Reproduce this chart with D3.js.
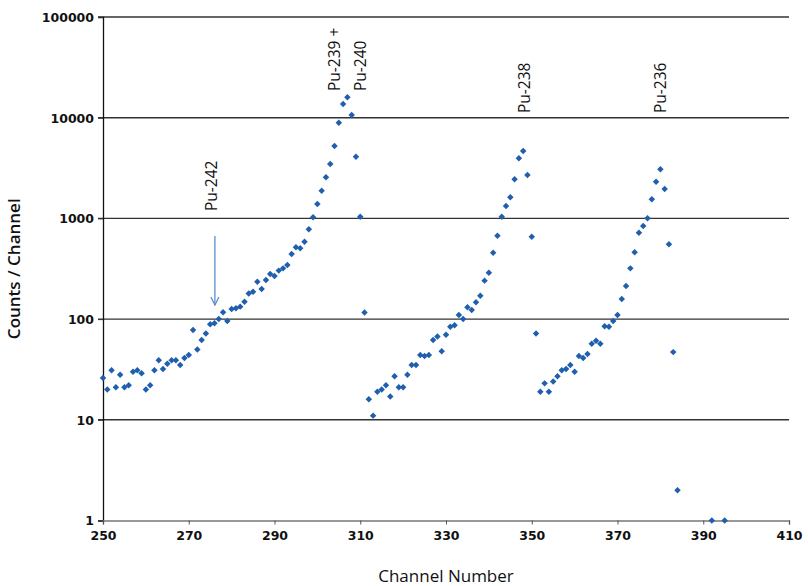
<!DOCTYPE html>
<html>
<head>
<meta charset="utf-8">
<title>Alpha spectrum - Counts / Channel</title>
<script src="https://d3js.org/d3.v7.min.js"></script>
<style>
body { margin: 0; background: #fff; }
.tick-label { font-family: "DejaVu Sans", Verdana, sans-serif; font-weight: bold; font-size: 12.5px; fill: #111; }
.axis-title { font-family: "Liberation Sans Narrow", "Open Sans", sans-serif; font-size: 17px; fill: #111; }
.peak { font-family: "Open Sans", "DejaVu Sans", sans-serif; font-size: 15.5px; fill: #111; }
</style>
</head>
<body>
<script>
// channel numbers and counts
var channels = [
  250,251,252,253,254,255,256,257,258,259,260,261,262,263,264,265,266,267,268,269,
  270,271,272,273,274,275,276,277,278,279,280,281,282,283,284,285,286,287,288,289,
  290,291,292,293,294,295,296,297,298,299,300,301,302,303,304,305,306,307,308,309,
  310,311,312,313,314,315,316,317,318,319,320,321,322,323,324,325,326,327,328,329,
  330,331,332,333,334,335,336,337,338,339,340,341,342,343,344,345,346,347,348,349,
  350,351,352,353,354,355,356,357,358,359,360,361,362,363,364,365,366,367,368,369,
  370,371,372,373,374,375,376,377,378,379,380,381,382,383,384,392,395
];
var counts = [
  26,20,31,21,28,21,22,30,31,29,20,22,31,39,32,36,39,39,35,41,
  44,78,50,62,72,89,91,100,117,96,126,128,133,149,180,187,235,199,245,280,
  268,303,319,344,443,517,505,587,780,1026,1390,1884,2560,3470,5230,8920,13680,15950,10640,4100,
  1040,116,16,11,19,20,22,17,27,21,21,28,35,35,44,43,44,62,67,48,
  70,84,87,110,100,131,123,147,171,241,289,457,673,1040,1328,1620,2445,3950,4670,2700,
  658,72,19,23,19,24,27,31,32,35,30,43,41,45,57,61,57,85,84,96,
  110,158,213,319,461,721,841,1002,1548,2313,3075,1960,553,47,2,1,1
];

var xTicks = [250,270,290,310,330,350,370,390,410];
var yTicks = [1,10,100,1000,10000,100000];

// peak labels: channel, counts at the start of the text
var peakNames = ["Pu-242", "Pu-239 +", "Pu-240", "Pu-238", "Pu-236"];
var peakChan  = [275.4, 303.9, 310.1, 348.2, 379.9];
var peakAt    = [1184, 18400, 18400, 11140, 11140];

// arrow pointing at Pu-242
var arrowChan = 276.1;
var arrowFrom = 670, arrowTo = 138;

var width = 808, height = 586;
var plotLeft = 103, plotRight = 789, plotTop = 17, plotBottom = 520.5;

var svg = d3.select("body").append("svg")
  .attr("width", width).attr("height", height)
  .style("background", "#fff");

var x = d3.scaleLinear().domain([250, 410]).range([plotLeft, plotRight]);
var y = d3.scaleLog().domain([1, 100000]).range([plotBottom, plotTop]);

// gridlines
svg.append("g").selectAll("line")
  .data(yTicks.slice(1))
  .enter().append("line")
  .attr("x1", plotLeft - 5).attr("x2", plotRight)
  .attr("y1", function(d) { return y(d); })
  .attr("y2", function(d) { return y(d); })
  .attr("stroke", "#333").attr("stroke-width", 1.4);

// y axis
var yAxis = d3.axisLeft(y).tickValues(yTicks).tickSize(5).tickFormat(d3.format("d"));
var gy = svg.append("g").attr("transform", "translate(" + plotLeft + ",0)").call(yAxis);
gy.select(".domain").attr("stroke", "#111").attr("stroke-width", 1.3);
gy.selectAll(".tick line").attr("stroke", "#333");
gy.selectAll(".tick text").attr("class", "tick-label").attr("x", -9).attr("dy", "0.35em");

// x axis
var xAxis = d3.axisBottom(x).tickValues(xTicks).tickSizeOuter(0).tickSize(4);
var gx = svg.append("g").attr("transform", "translate(0," + plotBottom + ")").call(xAxis);
gx.select(".domain").attr("stroke", "#777").attr("stroke-width", 1.4);
gx.selectAll(".tick line").attr("stroke", "#555");
gx.selectAll(".tick text").attr("class", "tick-label").attr("y", 11).attr("dy", "0.71em");

// points
var pts = channels.map(function(c, i) { return [c, counts[i]]; });
svg.append("g").selectAll("path")
  .data(pts)
  .enter().append("path")
  .attr("d", d3.symbol().type(d3.symbolSquare).size(21))
  .attr("transform", function(d) { return "translate(" + x(d[0]) + "," + y(d[1]) + ") rotate(45)"; })
  .attr("fill", "#1f5fae");

// arrow
var ax = x(arrowChan), ay1 = y(arrowFrom), ay2 = y(arrowTo);
svg.append("line")
  .attr("x1", ax).attr("x2", ax).attr("y1", ay1).attr("y2", ay2)
  .attr("stroke", "#5b8fd0").attr("stroke-width", 1.3);
svg.append("path")
  .attr("d", "M" + (ax - 4) + "," + (ay2 - 8) + "L" + ax + "," + ay2 + "L" + (ax + 4) + "," + (ay2 - 8))
  .attr("fill", "none").attr("stroke", "#5b8fd0").attr("stroke-width", 1.3);

// peak labels
svg.append("g").selectAll("text")
  .data(peakNames)
  .enter().append("text")
  .attr("class", "peak")
  .attr("transform", function(d, i) { return "translate(" + x(peakChan[i]) + "," + y(peakAt[i]) + ") rotate(-90)"; })
  .attr("dy", "0.36em")
  .text(function(d) { return d; });

// axis titles
svg.append("text").attr("class", "axis-title")
  .attr("transform", "translate(14," + ((plotTop + plotBottom) / 2) + ") rotate(-90)")
  .attr("text-anchor", "middle").attr("dy", "0.36em")
  .style("font-weight", "600")
  .text("Counts / Channel");

svg.append("text").attr("class", "axis-title")
  .attr("x", (plotLeft + plotRight) / 2).attr("y", 582)
  .attr("text-anchor", "middle")
  .text("Channel Number");
</script>
</body>
</html>
